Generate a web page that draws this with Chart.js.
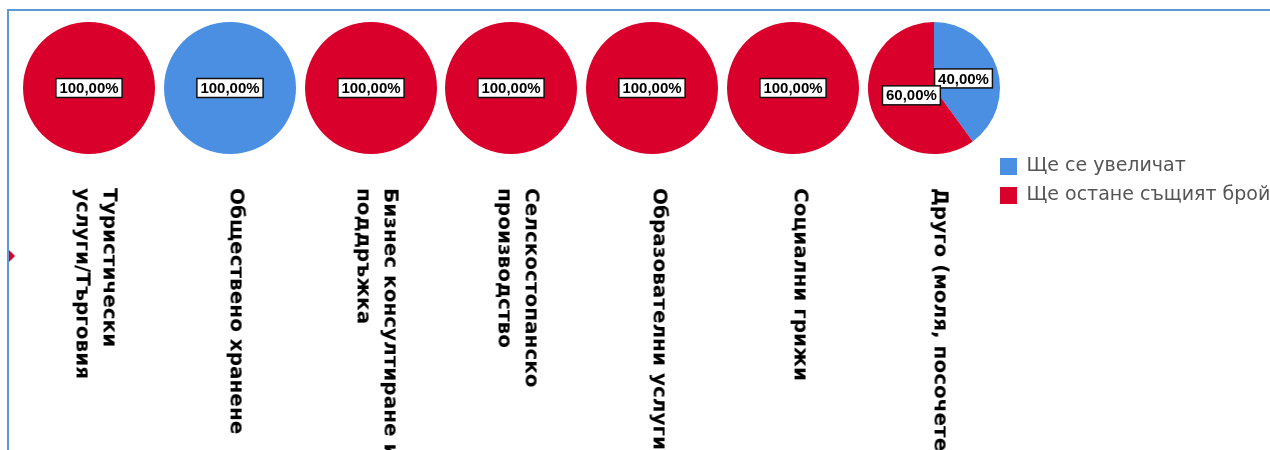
<!DOCTYPE html>
<html>
<head>
<meta charset="utf-8">
<script src="https://cdn.jsdelivr.net/npm/chart.js@4.4.1/dist/chart.umd.min.js"></script>
<style>
  html, body { margin: 0; padding: 0; background: #fff; }
  #wrap { position: relative; width: 1270px; height: 450px; overflow: hidden; background: #fff; }
  #frame { position: absolute; left: 7px; top: 9px; width: 1300px; height: 500px;
           border-top: 2px solid #5b9bd5; border-left: 2px solid #5b9bd5; }
  .pie { position: absolute; top: 22px; width: 132px; height: 132px; }
  #labelsBox { position: absolute; left: 0; top: 0; width: 600px; height: 986px;
               transform-origin: 0 0; }
  #legendBox { position: absolute; left: 990px; top: 147px; width: 280px; height: 200px; }
  #marker { position: absolute; left: 9px; top: 250px; width: 0; height: 0;
            border-left: 6px solid #d9002c; border-top: 6px solid transparent; border-bottom: 6px solid transparent; }
</style>
</head>
<body>
<div id="wrap">
  <div id="frame"></div>
  <div id="marker"></div>
  <div id="pies"></div>
  <div id="labelsBox"><canvas id="labels" width="600" height="986"></canvas></div>
  <div id="legendBox"><canvas id="legend" width="280" height="200"></canvas></div>
</div>
<script>
// ---- data ----
const categories = [
  ["Туристически", "услуги/Търговия"],
  "Обществено хранене",
  ["Бизнес консултиране и", "поддръжка"],
  ["Селскостопанско", "производство"],
  "Образователни услуги",
  "Социални грижи",
  "Друго (моля, посочете)"
];
const seriesNames = ["Ще се увеличат", "Ще остане същият брой"];
const increase = [0, 100, 0, 0, 0, 0, 40];
const sameCount = [100, 0, 100, 100, 100, 100, 60];
const seriesColors = ["#4a8fe2", "#d9002c"];

// ---- layout ----
const firstCenterX = 89;
const step = 140.8;
const pieR = 66;

Chart.defaults.font.family = '"DejaVu Sans", sans-serif';
Chart.defaults.animation = false;

const pctLabels = {
  id: 'pctLabels',
  afterDatasetsDraw(chart) {
    const ctx = chart.ctx;
    const ds = chart.data.datasets[0].data;
    const total = ds.reduce((a, b) => a + b, 0);
    const meta = chart.getDatasetMeta(0);
    meta.data.forEach((arc, i) => {
      const v = ds[i];
      if (!v) return;
      const p = arc.getProps(['x', 'y', 'startAngle', 'endAngle', 'outerRadius'], true);
      let px = p.x, py = p.y;
      if (v < total) {
        const mid = (p.startAngle + p.endAngle) / 2;
        const r = p.outerRadius * (v / total < 0.5 ? 0.47 : 0.36);
        px = p.x + Math.cos(mid) * r;
        py = p.y + Math.sin(mid) * r;
      }
      const text = (v / total * 100).toFixed(2).replace('.', ',') + '%';
      ctx.save();
      ctx.font = 'bold 15px "Liberation Sans", sans-serif';
      const w = ctx.measureText(text).width + 7;
      const h = 19;
      ctx.fillStyle = '#fff';
      ctx.fillRect(px - w / 2, py - h / 2, w, h);
      ctx.strokeStyle = '#111';
      ctx.lineWidth = 1.5;
      ctx.strokeRect(px - w / 2, py - h / 2, w, h);
      ctx.fillStyle = '#000';
      ctx.textAlign = 'center';
      ctx.textBaseline = 'middle';
      ctx.fillText(text, px, py + 1);
      ctx.restore();
    });
  }
};

const piesDiv = document.getElementById('pies');
categories.forEach((cat, i) => {
  const c = document.createElement('canvas');
  c.className = 'pie';
  c.width = 2 * pieR; c.height = 2 * pieR;
  c.style.left = (firstCenterX + i * step - pieR) + 'px';
  piesDiv.appendChild(c);
  new Chart(c, {
    type: 'pie',
    data: {
      labels: seriesNames,
      datasets: [{ data: [increase[i], sameCount[i]], backgroundColor: seriesColors, borderWidth: 0 }]
    },
    options: {
      responsive: false,
      layout: { padding: 0 },
      plugins: { legend: { display: false }, tooltip: { enabled: false } }
    },
    plugins: [pctLabels]
  });
});

// category labels: horizontal-index chart rotated 90deg clockwise
const labelsH = 986;
const labelShift = 6;
const lb = document.getElementById('labelsBox');
const tx = firstCenterX + labelShift + labelsH - labelsH / 14;
lb.style.transform = 'translate(' + tx + 'px, 188px) rotate(90deg)';
new Chart(document.getElementById('labels'), {
  type: 'bar',
  data: { labels: categories, datasets: [] },
  options: {
    indexAxis: 'y',
    responsive: false,
    layout: { padding: 0 },
    plugins: { legend: { display: false }, tooltip: { enabled: false } },
    scales: {
      x: { display: false },
      y: {
        type: 'category',
        reverse: true,
        offset: true,
        grid: { display: false, drawTicks: false },
        border: { display: false },
        ticks: {
          autoSkip: false,
          crossAlign: 'far',
          padding: 0,
          color: '#000',
          font: { family: '"DejaVu Sans", sans-serif', size: 20, weight: 'bold', lineHeight: 1.35 }
        },
        afterFit(scale) { scale.paddingTop = 0; scale.paddingBottom = 0; }
      }
    }
  }
});

// legend
new Chart(document.getElementById('legend'), {
  type: 'bar',
  data: {
    labels: [],
    datasets: seriesNames.map((n, k) => ({ label: n, data: [], backgroundColor: seriesColors[k], borderWidth: 0 }))
  },
  options: {
    responsive: false,
    layout: { padding: 0 },
    scales: { x: { display: false }, y: { display: false } },
    plugins: {
      tooltip: { enabled: false },
      legend: {
        display: true,
        position: 'top',
        align: 'start',
        labels: {
          boxWidth: 17, boxHeight: 17, padding: 10, color: '#555',
          font: { family: '"DejaVu Sans", sans-serif', size: 19 }
        }
      }
    }
  }
});
</script>
</body>
</html>
